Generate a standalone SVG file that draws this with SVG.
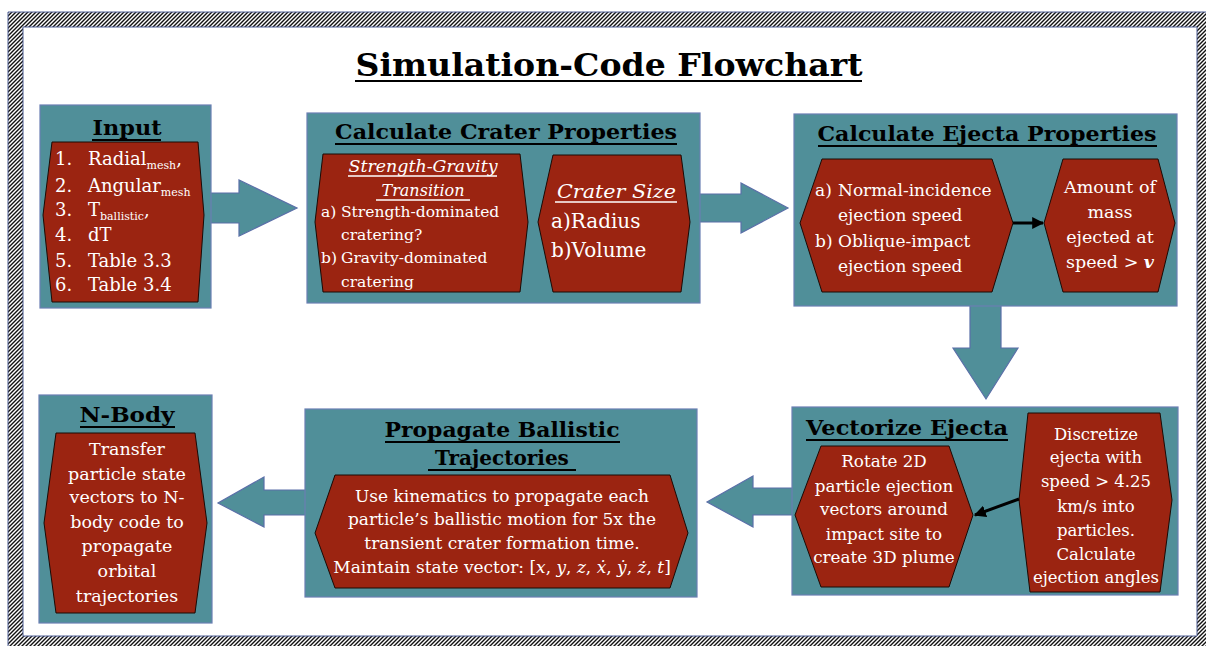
<svg xmlns="http://www.w3.org/2000/svg" width="1206" height="646" viewBox="0 0 1206 646">
<defs>
<pattern id="hatch" patternUnits="userSpaceOnUse" width="4" height="4">
<rect width="4" height="4" fill="#fff"/>
<path d="M-1,1 l2,-2 M0,4 l4,-4 M3,5 l2,-2" stroke="#111" stroke-width="1.4"/>
</pattern>
<marker id="ah2" viewBox="0 0 10 10" refX="9" refY="5" markerWidth="12" markerHeight="12" orient="auto" markerUnits="userSpaceOnUse">
<path d="M0,0 L10,5 L0,10 Z" fill="#000"/>
</marker>
</defs>
<style>
.box{fill:#508f99;stroke:#6a7fb3;stroke-width:1.2}
.hex{fill:#9b2411;stroke:#1a0a05;stroke-width:1}
.blk{fill:#508f99;stroke:#5a6fa8;stroke-width:1.2}
.t{font-family:"DejaVu Serif","Liberation Serif",serif;fill:#fff}
.h{font-family:"DejaVu Serif","Liberation Serif",serif;font-weight:bold;fill:#000}
.ul{stroke:#000;stroke-width:2}
.wul{stroke:#fff;stroke-width:1.3}
.c{text-anchor:middle}
</style>
<rect width="1206" height="646" fill="#fff"/>
<path d="M8,12 H1215 V660 H8 Z M23,27 V636 H1197 V27 Z" fill="url(#hatch)" fill-rule="evenodd" stroke="#4f5f95" stroke-width="1"/>
<g id="title">
<text class="h c" x="609" y="76" font-size="32" textLength="507" lengthAdjust="spacingAndGlyphs">Simulation-Code Flowchart</text>
<line class="ul" x1="355" y1="81" x2="862" y2="81" stroke-width="2.5"/>
</g>
<g id="connectors">
<path class="blk" d="M211,193 H239 V180 L297,208 L239,236 V223 H211"/>
<path class="blk" d="M700,194 H741 V183 L788,208 L741,233 V222 H700"/>
<path class="blk" d="M970,306 V348 H953 L986,399 L1018,348 H1001 V306"/>
<path class="blk" d="M792,488 H753 V476 L707,502 L753,527 V515 H792"/>
<path class="blk" d="M305,490 H264 V477 L218,503 L264,527 V515 H305"/>
</g>
<g id="input">
<rect class="box" x="40" y="105" width="171" height="203"/>
<text class="h c" x="127" y="135" font-size="21" textLength="69" lengthAdjust="spacingAndGlyphs">Input</text>
<line class="ul" x1="92" y1="140" x2="161" y2="140"/>
<polygon class="hex" points="52,142 198,142 204,215 198,302 52,302 43,215"/>
<g class="t" font-size="18">
<text x="55" y="165">1.</text><text x="88" y="165">Radial<tspan font-size="11" dy="4">mesh</tspan><tspan dy="-4">,</tspan></text>
<text x="55" y="192">2.</text><text x="88" y="192">Angular<tspan font-size="11" dy="4">mesh</tspan></text>
<text x="55" y="216">3.</text><text x="88" y="216">T<tspan font-size="11" dy="4">ballistic</tspan><tspan dy="-4">,</tspan></text>
<text x="55" y="241">4.</text><text x="88" y="241">dT</text>
<text x="55" y="267">5.</text><text x="88" y="267">Table 3.3</text>
<text x="55" y="291">6.</text><text x="88" y="291">Table 3.4</text>
</g>
</g>
<g id="crater">
<rect class="box" x="307" y="113" width="393" height="190"/>
<text class="h c" x="506" y="139" font-size="20" textLength="342" lengthAdjust="spacingAndGlyphs">Calculate Crater Properties</text>
<line class="ul" x1="335" y1="144" x2="677" y2="144"/>
<polygon class="hex" points="323,154 520,154 528,222 520,292 323,292 315,222"/>
<g class="t">
<text class="c" x="423" y="172" font-size="16" font-style="italic" textLength="149" lengthAdjust="spacingAndGlyphs">Strength-Gravity</text>
<line class="wul" x1="348" y1="176" x2="497" y2="176"/>
<text class="c" x="423" y="196" font-size="16" font-style="italic">Transition</text>
<line class="wul" x1="376" y1="200" x2="470" y2="200"/>
<g font-size="15.5">
<text x="321" y="217">a)</text><text x="341" y="217">Strength-dominated</text>
<text x="341" y="240">cratering?</text>
<text x="321" y="263">b)</text><text x="341" y="263">Gravity-dominated</text>
<text x="341" y="287">cratering</text>
</g>
</g>
<polygon class="hex" points="553,155 681,155 690,222 681,292 553,292 538,222"/>
<g class="t">
<text x="557" y="198" font-size="19" font-style="italic" textLength="119" lengthAdjust="spacingAndGlyphs">Crater Size</text>
<line class="wul" x1="555" y1="202" x2="677" y2="202"/>
<text x="551" y="228" font-size="20">a)Radius</text>
<text x="551" y="257" font-size="20">b)Volume</text>
</g>
</g>
<g id="ejecta">
<rect class="box" x="794" y="114" width="383" height="192"/>
<text class="h c" x="987" y="141" font-size="20" textLength="339" lengthAdjust="spacingAndGlyphs">Calculate Ejecta Properties</text>
<line class="ul" x1="818" y1="146" x2="1157" y2="146"/>
<polygon class="hex" points="822,159 992,159 1013,223 992,292 822,292 800,223"/>
<g class="t" font-size="17">
<text x="815" y="196">a)</text><text x="838" y="196">Normal-incidence</text>
<text x="838" y="221">ejection speed</text>
<text x="815" y="247">b)</text><text x="838" y="247">Oblique-impact</text>
<text x="838" y="272">ejection speed</text>
</g>
<polygon class="hex" points="1063,159 1158,159 1175,223 1158,292 1063,292 1044,223"/>
<g class="t c" font-size="17.5">
<text x="1110" y="193">Amount of</text>
<text x="1110" y="218">mass</text>
<text x="1110" y="243">ejected at</text>
<text x="1110" y="268">speed &gt; <tspan font-style="italic" font-weight="bold">v</tspan></text>
</g>
</g>
<g id="vectorize">
<rect class="box" x="792" y="407" width="386" height="188"/>
<text class="h c" x="907" y="435" font-size="20" textLength="202" lengthAdjust="spacingAndGlyphs">Vectorize Ejecta</text>
<line class="ul" x1="806" y1="440" x2="1008" y2="440"/>
<polygon class="hex" points="821,446 949,446 973,515 949,587 821,587 795,515"/>
<g class="t c" font-size="16.8">
<text x="884" y="467">Rotate 2D</text>
<text x="884" y="492">particle ejection</text>
<text x="884" y="515">vectors around</text>
<text x="884" y="540">impact site to</text>
<text x="884" y="563">create 3D plume</text>
</g>
<polygon class="hex" points="1028,413 1160,413 1172,500 1160,592 1030,592 1019,500"/>
<g class="t c" font-size="16.5">
<text x="1096" y="440">Discretize</text>
<text x="1096" y="463">ejecta with</text>
<text x="1096" y="487">speed &gt; 4.25</text>
<text x="1096" y="512">km/s into</text>
<text x="1096" y="536">particles.</text>
<text x="1096" y="560">Calculate</text>
<text x="1096" y="583">ejection angles</text>
</g>
</g>
<g id="propagate">
<rect class="box" x="305" y="409" width="392" height="188"/>
<text class="h c" x="502" y="437" font-size="20" textLength="235" lengthAdjust="spacingAndGlyphs">Propagate Ballistic</text>
<line class="ul" x1="385" y1="442" x2="620" y2="442"/>
<text class="h c" x="502" y="465" font-size="20">Trajectories</text>
<line class="ul" x1="428" y1="470" x2="576" y2="470"/>
<polygon class="hex" points="335,475 670,475 688,533 670,588 335,588 315,533"/>
<g class="t c" font-size="17">
<text x="502" y="502">Use kinematics to propagate each</text>
<text x="502" y="525">particle’s ballistic motion for 5x the</text>
<text x="502" y="549">transient crater formation time.</text>
<text x="502" y="573">Maintain state vector: [<tspan font-style="italic">x</tspan>, <tspan font-style="italic">y</tspan>, <tspan font-style="italic">z</tspan>, <tspan font-style="italic">ẋ</tspan>, <tspan font-style="italic">ẏ</tspan>, <tspan font-style="italic">ż</tspan>, <tspan font-style="italic">t</tspan>]</text>
</g>
</g>
<g id="nbody">
<rect class="box" x="39" y="395" width="173" height="228"/>
<text class="h c" x="127" y="422" font-size="21" textLength="95" lengthAdjust="spacingAndGlyphs">N-Body</text>
<line class="ul" x1="80" y1="427" x2="175" y2="427"/>
<polygon class="hex" points="56,433 195,433 207,523 195,613 56,613 44,523"/>
<g class="t c" font-size="17.5">
<text x="127" y="455">Transfer</text>
<text x="127" y="480">particle state</text>
<text x="127" y="503">vectors to N-</text>
<text x="127" y="528">body code to</text>
<text x="127" y="552">propagate</text>
<text x="127" y="577">orbital</text>
<text x="127" y="602">trajectories</text>
</g>
</g>
<g id="inner-connectors">
<line x1="1013" y1="223" x2="1043" y2="223" stroke="#000" stroke-width="3" marker-end="url(#ah2)"/>
<line x1="1019" y1="499" x2="975" y2="515" stroke="#000" stroke-width="3" marker-end="url(#ah2)"/>
</g>
</svg>
